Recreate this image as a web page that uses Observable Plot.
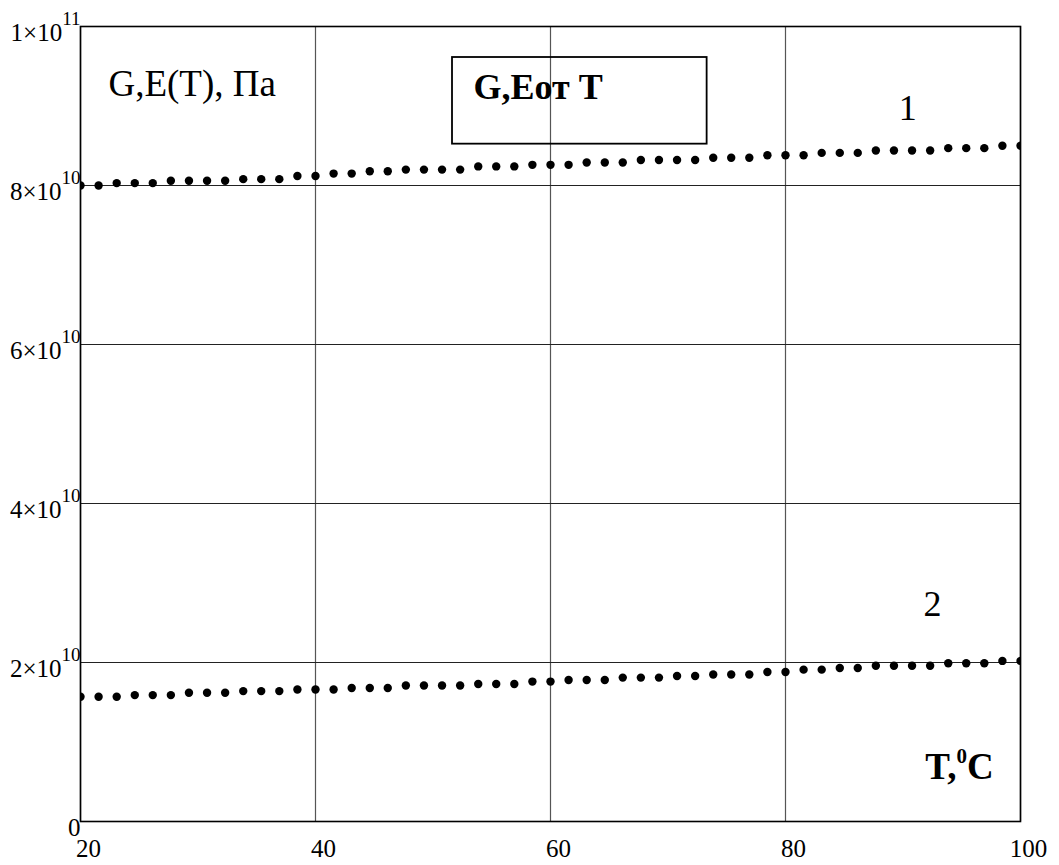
<!DOCTYPE html>
<html><head><meta charset="utf-8">
<script src="https://cdn.jsdelivr.net/npm/d3@7"></script>
<script src="https://cdn.jsdelivr.net/npm/@observablehq/plot@0.6"></script>
<style>body{margin:0;background:#fff} svg text{font-family:'Liberation Serif','Times New Roman',serif}</style>
</head><body><div id="chart"></div>
<script>
// Temperature, °C
const T = [20, 21.54, 23.08, 24.62, 26.15, 27.69, 29.23, 30.77, 32.31, 33.85, 35.38, 36.92, 38.46,
  40, 41.54, 43.08, 44.62, 46.15, 47.69, 49.23, 50.77, 52.31, 53.85, 55.38, 56.92, 58.46,
  60, 61.54, 63.08, 64.62, 66.15, 67.69, 69.23, 70.77, 72.31, 73.85, 75.38, 76.92, 78.46,
  80, 81.54, 83.08, 84.62, 86.15, 87.69, 89.23, 90.77, 92.31, 93.85, 95.38, 96.92, 98.46, 100];
// Curve 1 (×1e10 Pa)
const series1 = [8.00, 8.00, 8.03, 8.03, 8.03, 8.06, 8.06, 8.06, 8.06, 8.08, 8.08, 8.08, 8.12,
  8.12, 8.15, 8.15, 8.18, 8.18, 8.20, 8.20, 8.20, 8.20, 8.24, 8.24, 8.24, 8.26,
  8.26, 8.26, 8.29, 8.29, 8.29, 8.32, 8.32, 8.32, 8.32, 8.35, 8.35, 8.35, 8.38,
  8.38, 8.38, 8.41, 8.41, 8.41, 8.44, 8.44, 8.44, 8.44, 8.47, 8.47, 8.47, 8.50, 8.50];
// Curve 2 (×1e10 Pa)
const series2 = [1.57, 1.57, 1.57, 1.59, 1.59, 1.59, 1.62, 1.62, 1.62, 1.64, 1.64, 1.64, 1.66,
  1.66, 1.66, 1.68, 1.68, 1.68, 1.71, 1.71, 1.71, 1.71, 1.73, 1.73, 1.73, 1.76,
  1.76, 1.78, 1.78, 1.78, 1.81, 1.81, 1.81, 1.83, 1.83, 1.85, 1.85, 1.85, 1.88,
  1.88, 1.91, 1.91, 1.93, 1.93, 1.96, 1.96, 1.96, 1.96, 1.99, 1.99, 1.99, 2.02, 2.02];

const xTicks = [20, 40, 60, 80, 100];
const yTicks = [0, 2e10, 4e10, 6e10, 8e10, 1e11];
const yTickBase = ["0", "2×10", "4×10", "6×10", "8×10", "1×10"];
const yTickExp = ["", "10", "10", "10", "10", "11"];

// annotations (data units)
const titleLabel = [{text: "G,E(T), Па", x: 22.38, y: 9.13e10}];
const boxLabel = [{text: "G,Eот T", x: 53.45, y: 9.09e10}];
const box = [{x1: 51.66, x2: 73.33, y1: 8.52e10, y2: 9.61e10}];
const curveLabels = [{text: "1", x: 90.4, y: 8.83e10}, {text: "2", x: 92.5, y: 2.59e10}];
const axisLabel = [{text: "T,|0|C", x: 91.9, y: 0.537e10}];

const rows = [
  ...T.map((t, i) => ({T: t, v: series1[i] * 1e10, s: "1"})),
  ...T.map((t, i) => ({T: t, v: series2[i] * 1e10, s: "2"}))
];

const serif = "'Liberation Serif', 'Times New Roman', serif";

const plot = Plot.plot({
  width: 1059, height: 865,
  marginLeft: 80, marginRight: 39, marginTop: 26, marginBottom: 44,
  style: {fontFamily: serif, background: "#fff", color: "#000"},
  x: {domain: [20, 100]},
  y: {domain: [0, 1e11]},
  marks: [
    Plot.gridX(xTicks, {stroke: "#555", strokeOpacity: 1, strokeWidth: 1.2}),
    Plot.gridY(yTicks, {stroke: "#222", strokeOpacity: 1, strokeWidth: 1.2}),
    Plot.dot(rows, {x: "T", y: "v", r: 4.2, fill: "#000", clip: true}),
    Plot.axisX(xTicks, {tickSize: 0, tickPadding: 35, lineAnchor: "bottom", fontSize: 25, dx: 8,
      tickFormat: d => String(d), label: null}),
    Plot.axisY(yTicks, {tickSize: 0, tickPadding: 0, lineAnchor: "bottom", dy: 14, fontSize: 25,
      tickFormat: d => { const i = yTicks.indexOf(d); return yTickBase[i] + "|" + yTickExp[i]; }, label: null}),
    Plot.frame({stroke: "#000", strokeWidth: 1.6}),
    Plot.rect(box, {x1: "x1", x2: "x2", y1: "y1", y2: "y2", fill: "none", stroke: "#000", strokeWidth: 1.8}),
    Plot.text(titleLabel, {x: "x", y: "y", text: "text", textAnchor: "start", lineAnchor: "bottom", fontSize: 37}),
    Plot.text(boxLabel, {x: "x", y: "y", text: "text", textAnchor: "start", lineAnchor: "bottom", fontSize: 36, fontWeight: "bold"}),
    Plot.text(curveLabels, {x: "x", y: "y", text: "text", textAnchor: "middle", lineAnchor: "bottom", fontSize: 36}),
    Plot.text(axisLabel, {x: "x", y: "y", text: "text", textAnchor: "start", lineAnchor: "bottom", fontSize: 37, fontWeight: "bold"})
  ]
});

const xStr = xTicks.map(String);
plot.querySelectorAll("text").forEach(t => {
  const s = t.textContent;
  t.setAttribute("font-family", serif);
  if (xStr.includes(s)) { t.setAttribute("font-size", 25); return; }
  if (!s.includes("|")) return;
  const parts = s.split("|");
  const isT = s.startsWith("T,");
  const base = isT ? 37 : 25;
  const sup = isT ? 21 : 19;
  const shift = isT ? 16 : 15.6;
  t.setAttribute("font-size", base);
  t.textContent = "";
  parts.forEach((p, k) => {
    if (!p) return;
    const ts = document.createElementNS("http://www.w3.org/2000/svg", "tspan");
    ts.textContent = p;
    if (k % 2 === 1) { ts.setAttribute("font-size", sup); ts.setAttribute("dy", -shift); }
    else if (k > 0) { ts.setAttribute("dy", shift); }
    t.appendChild(ts);
  });
});

document.getElementById("chart").appendChild(plot);
</script>
</body></html>
